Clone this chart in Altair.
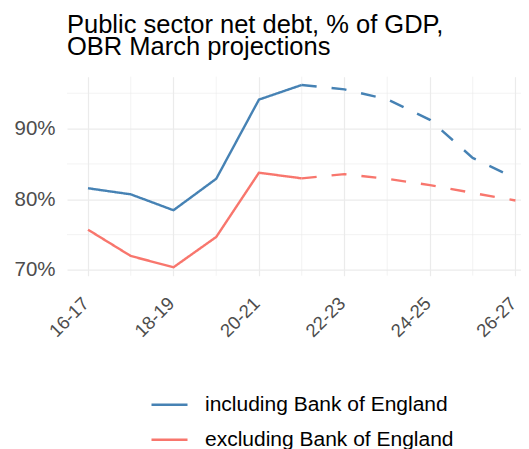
import altair as alt
import pandas as pd

years = ["16-17", "17-18", "18-19", "19-20", "20-21", "21-22",
         "22-23", "23-24", "24-25", "25-26", "26-27"]
incl_boe = [81.56, 80.7, 78.45, 82.9, 94.1, 96.17, 95.55, 94.14, 91.24, 85.85, 82.97]
excl_boe = [75.7, 71.98, 70.38, 74.67, 83.76, 82.96, 83.56, 82.9, 82.0, 80.9, 79.83]
series_names = ["including Bank of England", "excluding Bank of England"]
series_colors = ["#4682B4", "#F8766D"]
last_actual = "21-22"
major_y = [70, 80, 90]
minor_y = [75, 85, 95]

split = years.index(last_actual)
rows = []
for name, vals in zip(series_names, [incl_boe, excl_boe]):
    for i, (yr, v) in enumerate(zip(years, vals)):
        if i <= split:
            rows.append({"idx": i, "year": yr, "value": v, "series": name, "seg": "actual"})
        if i >= split:
            rows.append({"idx": i, "year": yr, "value": v, "series": name, "seg": "projection"})
df = pd.DataFrame(rows)

minor_x = pd.DataFrame({"idx": [i for i in range(len(years)) if i % 2 == 1]})
minor_yd = pd.DataFrame({"v": minor_y})

FONT = "Liberation Sans"
label_expr = "[" + ",".join("'" + y + "'" for y in years) + "][datum.value]"

xscale = alt.Scale(domain=[-0.491, 10.13], nice=False, zero=False)
yscale = alt.Scale(domain=[69.19, 97.34], nice=False, zero=False)

grid_x = alt.Chart(minor_x).mark_rule(color="#EBEBEB", strokeWidth=0.6).encode(
    x=alt.X("idx:Q", scale=xscale)
)
grid_y = alt.Chart(minor_yd).mark_rule(color="#EBEBEB", strokeWidth=0.6).encode(
    y=alt.Y("v:Q", scale=yscale)
)

lines = alt.Chart(df).mark_line(strokeWidth=2.4, strokeCap="butt").encode(
    x=alt.X("idx:Q", scale=xscale, title=None,
            axis=alt.Axis(values=list(range(0, len(years), 2)), labelExpr=label_expr,
                          labelAngle=315, labelAlign="right", labelBaseline="top",
                          labelPadding=18, labelOffset=-9, ticks=False, tickSize=0, domain=False,
                          grid=True, gridColor="#EBEBEB", gridWidth=1.2,
                          labelFont=FONT, labelFontSize=18.5, labelColor="#4D4D4D")),
    y=alt.Y("value:Q", scale=yscale, title=None,
            axis=alt.Axis(values=major_y, labelExpr="datum.value + '%'",
                          ticks=False, tickSize=0, domain=False, labelPadding=12,
                          grid=True, gridColor="#EBEBEB", gridWidth=1.2,
                          labelFont=FONT, labelFontSize=20.5, labelColor="#4D4D4D")),
    color=alt.Color("series:N", scale=alt.Scale(domain=series_names, range=series_colors),
                    title=None,
                    legend=alt.Legend(orient="none", legendX=83, legendY=308.6,
                                      direction="vertical", symbolType="stroke",
                                      symbolSize=1296, symbolStrokeWidth=2.6,
                                      rowPadding=5, labelOffset=16, padding=0, labelLimit=0,
                                      labelFont=FONT, labelFontSize=21, labelColor="#000000")),
    strokeDash=alt.StrokeDash("seg:N", scale=alt.Scale(domain=["actual", "projection"],
                                                       range=[[1, 0], [15, 15]]),
                              legend=None),
    detail="seg:N",
    order="idx:Q",
)

chart = alt.layer(grid_x, grid_y, lines).properties(
    width=454, height=199,
    title=alt.TitleParams(text=["Public sector net debt, % of GDP,", "OBR March projections"],
                          anchor="start", frame="group", font=FONT, fontSize=25.5,
                          fontWeight="normal", color="#000000", lineHeight=22, offset=16),
    autosize=alt.AutoSizeParams(type="none"),
    padding={"left": 59, "top": 68.7, "right": 0, "bottom": 173},
).configure_view(stroke=None)

chart.save("out.html", embed_options={"renderer": "svg", "actions": False})
